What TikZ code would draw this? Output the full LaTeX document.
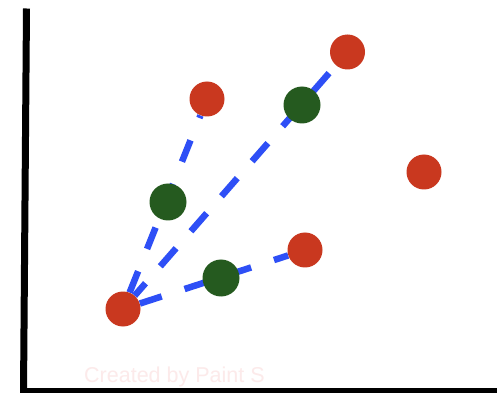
\documentclass[tikz,border=0pt]{standalone}
\usepackage{fontspec}
\newfontfamily\wmfont{Liberation Sans}
\definecolor{dotred}{HTML}{C9381F}
\definecolor{dotgreen}{HTML}{255A1F}
\definecolor{linkblue}{HTML}{2E4FF6}
\definecolor{wmpink}{HTML}{FCEAEA}
\pgfdeclarelayer{bg}
\pgfsetlayers{bg,main}
\begin{document}
\begin{tikzpicture}[x=1pt,y=-1pt,
  reddot/.style={circle,fill=dotred,inner sep=0pt,minimum size=35pt},
  greendot/.style={circle,fill=dotgreen,inner sep=0pt,minimum size=37pt},
  link/.style={draw=linkblue,line width=6.5pt,dash pattern=on 23pt off 24pt},
  axis/.style={draw=black,line cap=butt}]
\useasboundingbox (0,0) rectangle (504,393);
% watermark
\node[anchor=base west,text=wmpink,font=\wmfont\fontsize{21.5}{22}\selectfont,inner sep=0pt] (wm) at (84,382) {Created by Paint S};
% axes
\coordinate (ytop) at (26.5,8.5);
\coordinate (ybot) at (23.5,392.5);
\coordinate (xl) at (20,390.5);
\coordinate (xr) at (497,390.5);
\draw[axis,line width=7pt] (ytop) -- (ybot);
\draw[axis,line width=4.5pt] (xl) -- (xr);
% dots
\node[reddot] (r1) at (123,309) {};
\node[reddot] (r2) at (207,99) {};
\node[reddot] (r3) at (347.5,52) {};
\node[reddot] (r4) at (424,172) {};
\node[reddot] (r5) at (305,250) {};
\node[greendot] (g1) at (168,202) {};
\node[greendot] (g2) at (302,105) {};
\node[greendot] (g3) at (221,278) {};
% links
\begin{pgfonlayer}{bg}
\fill[white] (0,0) rectangle (504,393);
\draw[link] (r1) -- (r2);
\draw[link,dash pattern=on 24pt off 22.5pt,dash phase=7.5pt] (r1) -- (r3);
\draw[link] (r1) -- (r5);
\end{pgfonlayer}
\end{tikzpicture}
\end{document}
